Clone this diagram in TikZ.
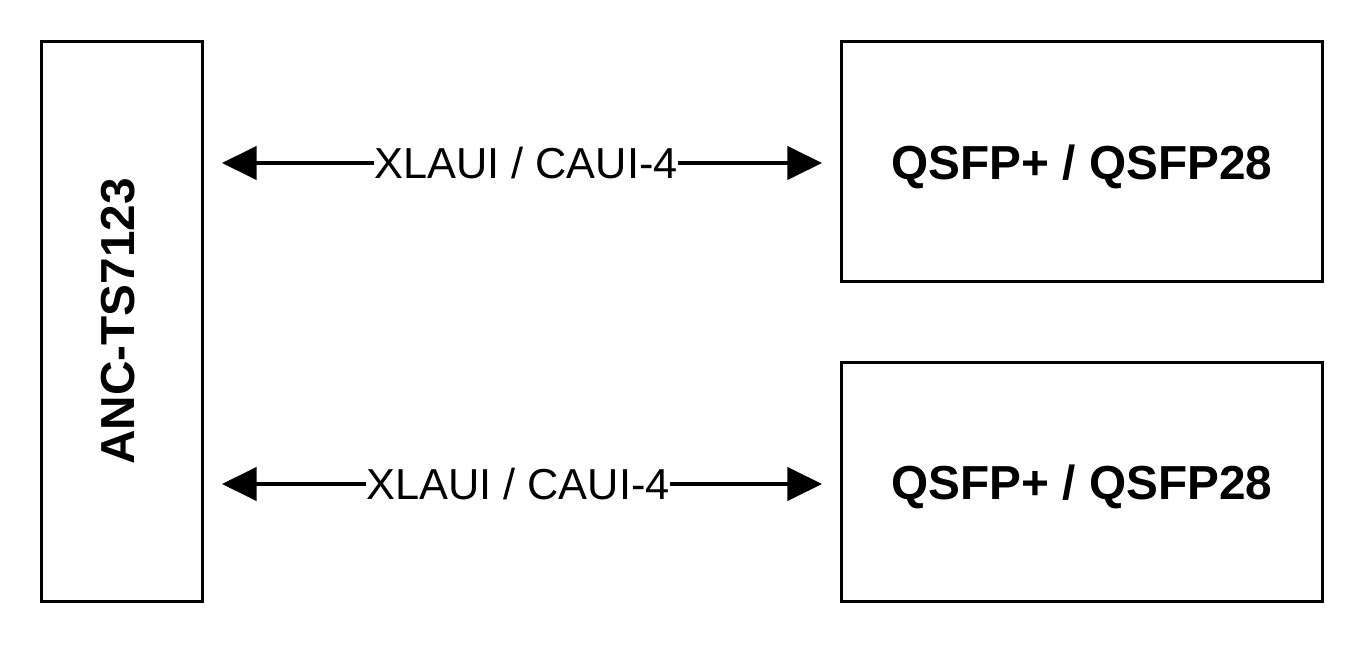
\documentclass[tikz,border=0pt]{standalone}
\usepackage{fontspec}
\setmainfont{Liberation Sans}
\usetikzlibrary{arrows.meta}
\begin{document}
\begin{tikzpicture}[x=0.75pt,y=-0.75pt,
  box/.style={draw,line width=2.8pt,inner sep=0pt},
  link/.style={line width=2.4pt,{Triangle[length=26pt,width=25pt]}-{Triangle[length=26pt,width=25pt]}},
  lbl/.style={fill=white,inner sep=0pt,font=\fontsize{32.5pt}{38pt}\selectfont},
  title/.style={font=\fontsize{35.8pt}{42pt}\selectfont\bfseries}]
\useasboundingbox (0,0) rectangle (1368,648);
\node[box,minimum width=161*0.75pt,minimum height=560*0.75pt] (anc) at (122,321.5) {};
\node[title,rotate=90] at ([xshift=-4*0.75pt]anc.center) {ANC-TS7123};
\node[box,minimum width=481*0.75pt,minimum height=240*0.75pt] (q1) at (1082,161.5) {};
\node[title] at ([yshift=-5*0.75pt]q1.center) {QSFP+ / QSFP28};
\node[box,minimum width=481*0.75pt,minimum height=239*0.75pt] (q2) at (1082,482) {};
\node[title] at ([yshift=-5*0.75pt]q2.center) {QSFP+ / QSFP28};
\coordinate (a1) at (222,163);
\coordinate (b1) at (822,163);
\coordinate (a2) at (222,484);
\coordinate (b2) at (822,484);
\draw[link] (a1) -- (b1);
\draw[link] (a2) -- (b2);
\node[lbl] at (526,163) {XLAUI / CAUI-4};
\node[lbl] at (518,484) {XLAUI / CAUI-4};
\end{tikzpicture}
\end{document}
